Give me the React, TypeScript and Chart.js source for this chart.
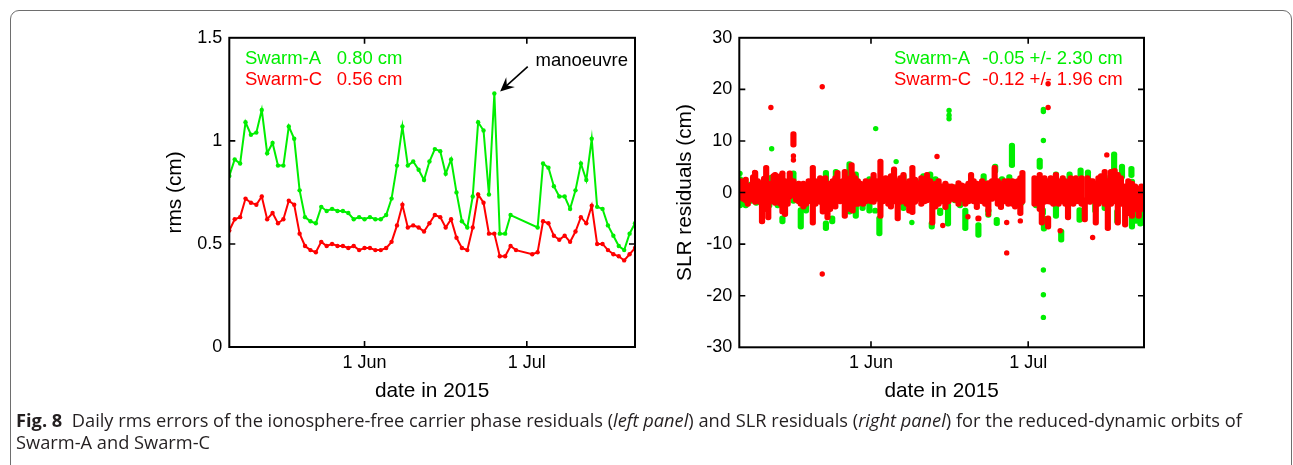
import React, { useEffect, useLayoutEffect, useRef } from 'react';
import { Chart, registerables } from 'chart.js';

Chart.register(...registerables);

const FONT = '"Liberation Sans", Arial, Helvetica, sans-serif';
const GREEN = '#00ee00';
const RED = '#ff0000';

// x values are days after 1 May 2015
const X_TICK_VALUES = [31, 61];
const X_TICK_LABELS = ['1 Jun', '1 Jul'];

// ---------- left panel: daily rms of carrier phase residuals (cm) ----------
const RMS_FIRST_DAY = 6; // 7 May 2015
const RMS_SWARM_A: (number | null)[] = [
  0.83, 0.91, 0.89, 1.09, 1.03, 1.04, 1.15, 0.94, 0.99, 0.88,
  0.88, 1.07, 1.01, 0.76, 0.63, 0.61, 0.60, 0.68, 0.66, 0.67,
  0.66, 0.66, 0.65, 0.62, 0.63, 0.62, 0.63, 0.62, 0.62, 0.64,
  0.72, 0.88, 1.07, 0.88, 0.90, 0.86, 0.81, 0.90, 0.96, 0.95,
  0.84, 0.91, 0.75, 0.61, 0.58, 0.73, 1.09, 1.05, 0.74, 1.23,
  0.55, 0.55, 0.64, null, null, null, null, 0.58, 0.89, 0.87,
  0.78, 0.73, 0.73, 0.67, 0.76, 0.89, 0.81, 1.01, 0.68, 0.67,
  0.59, 0.54, 0.49, 0.47, 0.55, 0.60,
];
const RMS_SWARM_C: (number | null)[] = [
  0.565, 0.62, 0.63, 0.72, 0.70, 0.69, 0.73, 0.62, 0.65, 0.60,
  0.62, 0.71, 0.69, 0.55, 0.49, 0.47, 0.46, 0.51, 0.49, 0.50,
  0.49, 0.49, 0.48, 0.49, 0.47, 0.48, 0.48, 0.47, 0.47, 0.48,
  0.51, 0.59, 0.69, 0.58, 0.59, 0.58, 0.56, 0.60, 0.64, 0.63,
  0.58, 0.62, 0.53, 0.48, 0.47, 0.58, 0.74, 0.70, 0.55, 0.55,
  0.44, 0.44, 0.49, 0.47, null, null, 0.45, 0.46, 0.61, 0.60,
  0.54, 0.52, 0.54, 0.51, 0.56, 0.63, 0.60, 0.685, 0.50, 0.50,
  0.47, 0.45, 0.44, 0.42, 0.45, 0.48,
];
const RMS_LEGEND = [
  { name: 'Swarm-A', value: '0.80 cm', color: GREEN },
  { name: 'Swarm-C', value: '0.56 cm', color: RED },
];
const MANOEUVRE_TEXT = 'manoeuvre';
const MANOEUVRE_LABEL_AT = { x: 62.6, y: 1.364 };
const MANOEUVRE_ARROW_FROM = { x: 61.17, y: 1.36 };
const MANOEUVRE_ARROW_TO = { x: 56.07, y: 1.24 };

// ---------- right panel: SLR residuals (cm) ----------
// streaks of normal points per pass: [day, lowest, highest]
const SLR_C_STREAKS: [number, number, number][] = [
  [6.2, -1.2, 2.7], [6.6, -1.7, 2.5], [7.1, -2.0, 3.0], [7.5, -2.7, 1.7], [8.1, -1.2, 1.9],
  [8.5, -1.9, 3.5], [8.9, -2.3, 4.3], [9.4, -1.7, 2.7], [9.8, -2.3, 2.3], [10.2, -6.1, 1.2],
  [10.6, -1.7, 3.2], [11.0, -3.7, 5.3], [11.4, -5.3, 1.7], [11.9, -2.2, 2.2], [12.4, -0.7, 3.7],
  [12.7, -2.5, 3.9], [13.2, -1.7, 3.3], [13.7, -2.7, 3.7], [14.1, -4.2, 4.2], [14.6, -4.7, 2.7],
  [15.1, -2.7, 2.2], [15.5, -1.3, 4.2], [16.2, -1.0, 2.7], [16.2, 8.8, 11.8], [16.7, -1.9, 1.5],
  [17.2, -2.2, 2.2], [17.6, -2.7, 2.0], [18.1, -3.2, 2.2], [18.6, -2.7, 1.7], [19.1, -1.5, 2.7],
  [19.5, -2.2, 2.2], [19.9, -6.3, 5.3], [20.4, -2.7, 2.7], [20.8, -1.7, 2.2], [21.3, -2.3, 3.3],
  [21.8, -4.2, 2.2], [22.3, -1.7, 3.3], [22.7, -5.3, 1.7], [23.2, -3.7, 2.2], [23.7, -2.7, 2.7],
  [24.2, -3.2, 3.3], [24.6, -1.9, 4.3], [25.1, -2.2, 2.2], [25.6, -1.9, 2.7], [26.0, -5.0, 4.5],
  [26.5, -2.2, 2.7], [27.0, -3.7, 3.3], [27.3, 3.0, 5.8], [27.5, -4.0, 3.9], [28.0, -2.7, 3.3],
  [28.5, -2.7, 2.7], [29.0, -2.2, 2.2], [29.5, -2.7, 1.7], [30.0, -2.2, 2.7], [30.5, -1.7, 2.2],
  [31.0, -2.2, 2.7], [31.5, -2.3, 3.9], [32.1, -1.7, 2.7], [32.8, -5.0, 6.5], [33.3, -2.2, 2.7],
  [33.8, -1.7, 3.3], [34.3, -2.7, 2.2], [34.8, -3.2, 3.7], [35.4, -2.2, 5.0], [36.1, -5.5, 2.7],
  [36.6, -2.3, 3.3], [37.2, -2.2, 3.9], [37.8, -2.7, 2.2], [38.3, -4.0, 2.7], [38.9, -4.3, 5.3],
  [39.4, -2.3, 3.0], [40.0, -1.7, 2.2], [40.6, -2.7, 3.3], [41.2, -2.2, 2.7], [41.7, -2.0, 3.9],
  [42.3, -1.7, 2.7], [42.7, -6.3, -1.5], [43.3, -3.2, 2.2], [43.9, -2.7, 2.7], [44.5, -2.2, 1.7],
  [45.2, -3.3, 2.2], [45.8, -2.2, 1.7], [46.4, -1.7, 1.7], [47.1, -1.9, 1.5], [47.7, -2.7, 2.3],
  [48.3, -1.7, 1.9], [49.0, -2.7, 1.7], [49.6, -2.2, 2.2], [50.1, -1.7, 3.9], [50.6, -2.2, 2.7],
  [51.2, -3.3, 2.2], [51.5, -5.5, -4.5], [52.2, -2.2, 2.7], [52.8, -2.7, 2.2], [53.4, -4.0, 2.3],
  [54.1, -1.7, 2.7], [54.6, 0.0, 5.3], [55.2, -2.7, 2.7], [55.8, -3.3, 2.2], [56.5, -2.2, 2.7],
  [57.2, -2.7, 2.7], [57.4, -2.2, 2.2], [58.0, -2.7, 2.7], [58.5, -3.2, 2.3], [59.0, -2.7, 2.7],
  [59.5, -4.5, 3.3], [59.9, -2.2, 4.3], [62.2, -2.7, 3.3], [62.7, -2.2, 2.7], [63.2, -3.7, 3.9],
  [63.6, -6.3, -1.0], [64.1, -2.3, 3.3], [64.8, -7.1, -4.5], [64.8, -2.2, 2.7], [65.3, -2.3, 3.3],
  [65.8, -2.7, 2.7], [66.3, -2.0, 3.9], [66.8, -2.7, 2.7], [67.2, -2.2, 2.2], [67.6, -2.2, 3.3],
  [68.1, -2.7, 2.7], [68.6, -5.3, -1.0], [69.1, -2.2, 3.3], [69.6, -2.7, 2.7], [70.1, -2.2, 3.3],
  [70.6, -2.2, 2.7], [71.2, -2.7, 3.3], [71.8, -5.7, -1.0], [72.3, -2.2, 3.3], [72.8, -2.3, 2.7],
  [73.3, -1.7, 2.7], [73.9, -6.3, 2.2], [74.4, -2.7, 3.3], [74.9, -2.2, 3.7], [75.6, -2.7, 4.5],
  [76.2, -7.4, 2.7], [76.8, -2.7, 4.5], [77.5, -2.2, 4.7], [78.1, -6.3, 3.9], [78.7, -2.7, 3.3],
  [79.5, -6.7, 1.7], [80.1, -4.5, 2.7], [80.8, -5.0, 2.2], [81.4, -3.7, 1.7], [82.1, -5.0, 1.2],
  [82.6, -3.7, 1.7],
];
// isolated normal points: [day, residual]
const SLR_C_POINTS: [number, number][] = [
  [8.8, 3.9], [10.3, -5.5], [11.9, 16.5], [16.2, 6.3], [16.2, 7.1], [21.7, 20.5], [21.7, -15.8],
  [43.6, 7.0], [44.7, -6.4], [49.5, -4.7], [53.4, -4.2], [56.9, -5.8], [56.9, -11.7],
  [59.5, -5.5], [64.8, 21.1], [64.8, 16.5], [67.1, -7.4], [73.3, -8.7], [76.0, 7.3],
];
const SLR_A_STREAKS: [number, number, number][] = [
  [6.0, -3.0, 3.1], [6.4, -2.0, 2.0], [7.1, -3.0, 2.0], [8.1, -2.1, 2.1], [9.1, -2.5, 1.5],
  [10.3, -3.0, 2.0], [11.6, -3.0, 2.5], [12.0, 0.0, 3.4], [13.2, -3.0, 2.5], [14.1, -6.1, -4.5],
  [14.1, -2.5, 2.5], [16.2, -2.1, 4.2], [17.6, -7.1, -2.9], [18.6, -4.0, 1.5], [20.2, -2.5, 2.5],
  [22.4, -0.8, 4.3], [22.4, -7.4, -5.5], [23.6, -6.1, -4.5], [24.3, 0.5, 4.5], [25.3, -1.5, 2.5],
  [26.9, 2.0, 6.0], [26.9, -4.2, -1.0], [28.1, -5.0, 4.0], [29.4, -3.5, -0.5], [30.7, -4.0, 3.1],
  [31.8, -4.0, -3.0], [32.6, -8.4, -4.5], [37.2, -3.5, 3.7], [39.8, -1.5, 2.5], [41.0, 2.0, 3.7],
  [42.3, -1.5, 4.0], [42.6, -7.1, -5.5], [43.3, -1.5, 3.1], [44.2, -4.5, -3.0], [45.7, -6.5, -2.0],
  [47.0, -2.0, 1.5], [48.0, -3.0, 0.0], [49.0, -7.4, -3.0], [50.1, -1.5, 3.1], [51.5, -8.7, -5.8],
  [52.5, 1.5, 3.7], [53.4, -4.8, -3.0], [54.7, 3.7, 5.5], [55.0, -6.4, -4.8], [56.0, -1.5, 3.1],
  [57.4, -2.1, 3.5], [57.9, 4.8, 9.6], [58.7, -2.5, 2.0], [59.7, -2.5, 2.5], [62.5, -3.0, 2.5],
  [63.2, 4.5, 6.7], [63.8, -4.5, -2.9], [64.0, -7.5, -4.5], [66.3, -5.0, 4.0], [67.3, -9.6, -7.1],
  [68.9, -2.5, 4.0], [70.8, -5.8, -2.9], [71.0, 3.0, 4.8], [72.4, -1.5, 4.4], [73.8, -4.0, 0.0],
  [75.6, -3.5, 3.5], [77.4, 3.5, 7.9], [78.0, -6.1, -3.2], [78.9, 2.6, 5.5], [80.7, 2.9, 5.1],
  [80.8, -7.1, 2.6], [81.6, -6.0, 0.0], [82.4, -6.5, -1.0],
];
const SLR_A_POINTS: [number, number][] = [
  [6.0, 3.7], [12.05, 8.5], [31.9, 12.4], [35.8, 6.0], [38.8, -5.8], [45.9, 14.3], [45.9, 15.0],
  [45.9, 15.9], [63.9, 10.1], [63.9, 15.7], [63.9, 16.1], [63.9, -15.0], [63.9, -19.8], [63.9, -24.2],
];
const SLR_LEGEND = [
  { name: 'Swarm-A', value: '-0.05 +/- 2.30 cm', color: GREEN },
  { name: 'Swarm-C', value: '-0.12 +/- 1.96 cm', color: RED },
];

const CAPTION_LINE_WIDTH = 1227;

// ---------- plugins ----------
const framePlugin = {
  id: 'frame',
  afterDraw(chart: any) {
    const { ctx, chartArea: a, scales } = chart;
    ctx.save();
    ctx.strokeStyle = '#000';
    ctx.lineWidth = 1.6;
    const L = 6;
    ctx.beginPath();
    for (const t of scales.x.ticks) {
      const px = scales.x.getPixelForValue(t.value);
      if (px <= a.left + 1 || px >= a.right - 1) continue;
      ctx.moveTo(px, a.bottom); ctx.lineTo(px, a.bottom - L);
      ctx.moveTo(px, a.top); ctx.lineTo(px, a.top + L);
    }
    for (const t of scales.y.ticks) {
      const py = scales.y.getPixelForValue(t.value);
      if (py <= a.top + 1 || py >= a.bottom - 1) continue;
      ctx.moveTo(a.left, py); ctx.lineTo(a.left + L, py);
      ctx.moveTo(a.right, py); ctx.lineTo(a.right - L, py);
    }
    ctx.stroke();
    ctx.lineWidth = 2;
    ctx.strokeRect(a.left, a.top, a.right - a.left, a.bottom - a.top);
    ctx.restore();
  },
};

const notesPlugin = {
  id: 'notes',
  afterDatasetsDraw(chart: any, _args: any, opts: any) {
    const { ctx, chartArea: a, scales } = chart;
    ctx.save();
    ctx.textBaseline = 'alphabetic';
    ctx.textAlign = 'left';
    for (const t of opts.texts || []) {
      ctx.font = `${t.size}px ${FONT}`;
      ctx.fillStyle = t.color;
      const px = t.dx != null ? a.left + t.dx : scales.x.getPixelForValue(t.x);
      const py = t.dy != null ? a.top + t.dy : scales.y.getPixelForValue(t.y);
      ctx.fillText(t.text, px, py);
    }
    if (opts.arrow) {
      const { from, to } = opts.arrow;
      const x0 = scales.x.getPixelForValue(from.x);
      const y0 = scales.y.getPixelForValue(from.y);
      const x1 = scales.x.getPixelForValue(to.x);
      const y1 = scales.y.getPixelForValue(to.y);
      const ang = Math.atan2(y1 - y0, x1 - x0);
      const c = Math.cos(ang), s = Math.sin(ang);
      ctx.strokeStyle = '#000';
      ctx.fillStyle = '#000';
      ctx.lineWidth = 1.6;
      ctx.beginPath();
      ctx.moveTo(x0, y0);
      ctx.lineTo(x1 - 8 * c, y1 - 8 * s);
      ctx.stroke();
      const HL = 14, HW = 6.5, NOTCH = 9;
      const bx = x1 - HL * c, by = y1 - HL * s;
      ctx.beginPath();
      ctx.moveTo(x1, y1);
      ctx.lineTo(bx - HW * s, by + HW * c);
      ctx.lineTo(x1 - NOTCH * c, y1 - NOTCH * s);
      ctx.lineTo(bx + HW * s, by - HW * c);
      ctx.closePath();
      ctx.fill();
    }
    ctx.restore();
  },
};

const tickFont = { family: FONT, size: 18 };
const titleFont = { family: FONT, size: 20.8 };

function xScale(min: number, max: number, height: number) {
  return {
    type: 'linear',
    min,
    max,
    offset: false,
    afterBuildTicks: (ax: any) => {
      ax.ticks = X_TICK_VALUES.map((v) => ({ value: v }));
    },
    ticks: {
      callback: (v: number) => {
        const i = X_TICK_VALUES.indexOf(v);
        return i >= 0 ? X_TICK_LABELS[i] : '';
      },
      font: tickFont,
      color: '#000',
      padding: 5.2,
      maxRotation: 0,
      autoSkip: false,
    },
    grid: { display: false, drawTicks: false },
    border: { display: false },
    title: {
      display: true,
      text: 'date in 2015',
      font: titleFont,
      color: '#000',
      padding: { top: 0, bottom: 6.5 },
    },
    afterFit: (sc: any) => {
      sc.height = height;
    },
  };
}

function yScale(min: number, max: number, step: number, title: string) {
  return {
    type: 'linear',
    min,
    max,
    ticks: {
      stepSize: step,
      font: tickFont,
      color: '#000',
      padding: 7,
      callback: (v: number) => String(Math.round(v * 100) / 100),
    },
    grid: { display: false, drawTicks: false },
    border: { display: false },
    title: {
      display: true,
      text: title,
      font: titleFont,
      color: '#000',
      padding: { top: 12.5, bottom: 0 },
    },
    afterFit: (sc: any) => {
      sc.width = 79.3;
    },
  };
}

function legendTexts(rows: { name: string; value: string; color: string }[], dxName: number, dxValue: number) {
  const out: any[] = [];
  rows.forEach((r, i) => {
    const dy = i === 0 ? 25.7 : 47.3;
    out.push({ text: r.name, color: r.color, size: 18.5, dx: dxName, dy });
    out.push({ text: r.value, color: r.color, size: 18.5, dx: dxValue, dy });
  });
  return out;
}

function toPoints(values: (number | null)[]) {
  const pts: { x: number; y: number }[] = [];
  values.forEach((v, i) => {
    if (v != null) pts.push({ x: RMS_FIRST_DAY + i, y: v });
  });
  return pts;
}

function RmsPanel() {
  const ref = useRef<HTMLCanvasElement>(null);
  useEffect(() => {
    const lineStyle = (color: string) => ({
      borderColor: color,
      backgroundColor: color,
      borderWidth: 2,
      pointRadius: 2.2,
      pointBorderWidth: 0,
      pointBackgroundColor: color,
      tension: 0,
    });
    const chart = new Chart(ref.current as HTMLCanvasElement, {
      type: 'line',
      data: {
        datasets: [
          { label: 'Swarm-C', data: toPoints(RMS_SWARM_C), ...lineStyle(RED), order: 1 },
          { label: 'Swarm-A', data: toPoints(RMS_SWARM_A), ...lineStyle(GREEN), order: 2 },
        ],
      },
      options: {
        responsive: false,
        animation: false,
        events: [],
        layout: { padding: { top: 16, right: 15, left: 0, bottom: 0 } },
        plugins: {
          legend: { display: false },
          tooltip: { enabled: false },
          notes: {
            texts: [
              ...legendTexts(RMS_LEGEND, 15.7, 107.4),
              { text: MANOEUVRE_TEXT, color: '#000', size: 18.5, x: MANOEUVRE_LABEL_AT.x, y: MANOEUVRE_LABEL_AT.y },
            ],
            arrow: { from: MANOEUVRE_ARROW_FROM, to: MANOEUVRE_ARROW_TO },
          },
        } as any,
        scales: {
          x: xScale(6, 81, 63) as any,
          y: yScale(0, 1.5, 0.5, 'rms (cm)') as any,
        },
      },
      plugins: [framePlugin, notesPlugin],
    });
    return () => chart.destroy();
  }, []);
  return <canvas ref={ref} width={500} height={390} style={{ position: 'absolute', left: 150, top: 20 }} />;
}

function SlrPanel() {
  const ref = useRef<HTMLCanvasElement>(null);
  useEffect(() => {
    const streaks = (rows: [number, number, number][], color: string, order: number) => ({
      type: 'bar',
      data: rows.map(([d, lo, hi]) => ({ x: d, y: [lo, hi] })),
      backgroundColor: color,
      borderWidth: 0,
      barThickness: 5.5,
      borderRadius: 2.75,
      borderSkipped: false,
      grouped: false,
      order,
    });
    const dots = (rows: [number, number][], color: string, order: number) => ({
      type: 'scatter',
      data: rows.map(([d, v]) => ({ x: d, y: v })),
      pointRadius: 2.7,
      pointBorderWidth: 0,
      pointBackgroundColor: color,
      backgroundColor: color,
      borderColor: color,
      showLine: false,
      order,
    });
    const chart = new Chart(ref.current as HTMLCanvasElement, {
      type: 'bar',
      data: {
        datasets: [
          dots(SLR_C_POINTS, RED, 0),
          streaks(SLR_C_STREAKS, RED, 1),
          dots(SLR_A_POINTS, GREEN, 2),
          streaks(SLR_A_STREAKS, GREEN, 3),
        ] as any,
      },
      options: {
        responsive: false,
        animation: false,
        events: [],
        layout: { padding: { top: 16, right: 16, left: 0, bottom: 0 } },
        plugins: {
          legend: { display: false },
          tooltip: { enabled: false },
          notes: { texts: legendTexts(SLR_LEGEND, 154.7, 243) },
        } as any,
        scales: {
          x: xScale(5.87, 83.1, 62.7) as any,
          y: yScale(-30, 30, 10, 'SLR residuals (cm)') as any,
        },
      },
      plugins: [framePlugin, notesPlugin],
    });
    return () => chart.destroy();
  }, []);
  return <canvas ref={ref} width={500} height={390} style={{ position: 'absolute', left: 660, top: 20 }} />;
}

function Caption() {
  const boxRef = useRef<HTMLDivElement>(null);
  const lineRef = useRef<HTMLSpanElement>(null);
  useLayoutEffect(() => {
    const fit = () => {
      const box = boxRef.current;
      const line = lineRef.current;
      if (!box || !line) return;
      box.style.fontSize = '16px';
      const w = line.getBoundingClientRect().width;
      if (w > 0) box.style.fontSize = `${(16 * CAPTION_LINE_WIDTH) / w}px`;
    };
    fit();
    if ((document as any).fonts && (document as any).fonts.ready) {
      (document as any).fonts.ready.then(fit);
    }
  }, []);
  return (
    <div
      ref={boxRef}
      style={{
        position: 'absolute',
        left: 16,
        top: 409,
        fontFamily: '"Open Sans", "Noto Sans", sans-serif',
        fontSize: 16,
        lineHeight: '22px',
        color: '#231f20',
        whiteSpace: 'nowrap',
      }}
    >
      <span ref={lineRef} style={{ display: 'inline-block' }}>
        <b>Fig. 8</b>&nbsp; Daily rms errors of the ionosphere-free carrier phase residuals (<i>left panel</i>) and SLR
        residuals (<i>right panel</i>) for the reduced-dynamic orbits of
      </span>
      <br />
      <span>Swarm-A and Swarm-C</span>
    </div>
  );
}

export default function App() {
  return (
    <div
      style={{
        position: 'fixed',
        left: 0,
        top: 0,
        width: 1293,
        height: 465,
        overflow: 'hidden',
        background: '#fff',
      }}
    >
      <div
        style={{
          position: 'absolute',
          left: 10,
          top: 10,
          width: 1282,
          height: 520,
          boxSizing: 'border-box',
          border: '1.5px solid #6e6e6e',
          borderRadius: 9,
        }}
      />
      <RmsPanel />
      <SlrPanel />
      <Caption />
    </div>
  );
}
